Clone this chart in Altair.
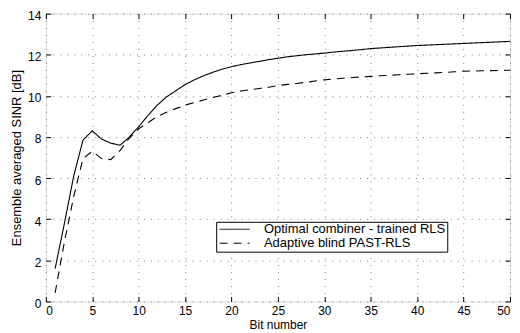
import altair as alt
import pandas as pd

# ---- data ----
bits = list(range(1, 51))
optimal_rls = [1.60, 3.80, 6.10, 7.85, 8.30, 7.90, 7.70, 7.60, 8.00, 8.50,
               9.05, 9.55, 9.95, 10.25, 10.55, 10.78, 10.98, 11.15, 11.30, 11.42,
               11.52, 11.60, 11.68, 11.76, 11.83, 11.90, 11.95, 12.00, 12.04, 12.08,
               12.13, 12.17, 12.21, 12.25, 12.30, 12.33, 12.36, 12.39, 12.42, 12.45,
               12.47, 12.49, 12.51, 12.53, 12.55, 12.57, 12.59, 12.61, 12.63, 12.65]
blind_past_rls = [0.42, 2.90, 5.10, 6.95, 7.30, 6.95, 6.90, 7.35, 7.95, 8.40,
                  8.70, 9.00, 9.20, 9.38, 9.55, 9.68, 9.80, 9.92, 10.03, 10.15,
                  10.24, 10.30, 10.36, 10.42, 10.50, 10.56, 10.60, 10.66, 10.72, 10.78,
                  10.82, 10.86, 10.89, 10.92, 10.95, 10.98, 11.00, 11.03, 11.05, 11.07,
                  11.10, 11.12, 11.14, 11.17, 11.20, 11.21, 11.22, 11.23, 11.24, 11.25]
series_names = ["Optimal combiner - trained RLS", "Adaptive blind PAST-RLS"]
x_ticks = [0, 5, 10, 15, 20, 25, 30, 35, 40, 45, 50]
y_ticks = [0, 2, 4, 6, 8, 10, 12, 14]

df = pd.DataFrame({
    "bit": bits + bits,
    "sinr": optimal_rls + blind_past_rls,
    "series": [series_names[0]] * len(bits) + [series_names[1]] * len(bits),
})

FONT = "Liberation Sans"
xs = alt.Scale(domain=[0, 50], nice=False, zero=False)
ys = alt.Scale(domain=[0, 14], nice=False, zero=False)

grid_style = dict(grid=True, gridDash=[1, 6], gridColor="#808080", gridWidth=1)
label_style = dict(labelFont=FONT, labelFontSize=12, labelColor="black",
                   titleFont=FONT, titleColor="black", titleFontWeight="normal")

base = alt.Chart(df)

lines = base.mark_line(strokeWidth=1.1, color="black").encode(
    x=alt.X("bit:Q", scale=xs, title="Bit number",
            axis=alt.Axis(values=x_ticks, ticks=False, domain=False,
                          labelPadding=4, titlePadding=3, titleFontSize=12,
                          **grid_style, **label_style)),
    y=alt.Y("sinr:Q", scale=ys, title="Ensemble averaged SINR [dB]",
            axis=alt.Axis(values=y_ticks, ticks=False, domain=False,
                          labelPadding=5, titlePadding=4, titleFontSize=13,
                          labelOffset=2, **grid_style, **label_style)),
    strokeDash=alt.StrokeDash(
        "series:N",
        scale=alt.Scale(domain=series_names, range=[[1, 0], [8, 6]]),
        legend=alt.Legend(title=None, orient="none", legendX=171, legendY=209,
                          fillColor="white", strokeColor="black", padding=1,
                          cornerRadius=0, symbolType="M-3,0H3", symbolSize=100,
                          symbolStrokeWidth=1, symbolStrokeColor="black",
                          symbolOffset=11, labelOffset=23,
                          labelFont=FONT, labelFontSize=13, labelColor="black",
                          labelLimit=400, rowPadding=-1),
    ),
)

tick_axis = dict(labels=False, domain=False, grid=False, ticks=True,
                 tickSize=5, tickColor="black", tickWidth=1)

ticks_bl = base.mark_line(opacity=0).encode(
    x=alt.X("bit:Q", scale=xs, title=None,
            axis=alt.Axis(values=x_ticks, orient="bottom", offset=-5, **tick_axis)),
    y=alt.Y("sinr:Q", scale=ys, title=None,
            axis=alt.Axis(values=y_ticks, orient="left", offset=-5, **tick_axis)),
)

ticks_tr = base.mark_line(opacity=0).encode(
    x=alt.X("bit:Q", scale=xs, title=None,
            axis=alt.Axis(values=x_ticks, orient="top", offset=-5, **tick_axis)),
    y=alt.Y("sinr:Q", scale=ys, title=None,
            axis=alt.Axis(values=y_ticks, orient="right", offset=-5, **tick_axis)),
)

chart = (
    alt.layer(lines, ticks_bl, ticks_tr)
    .resolve_axis(x="independent", y="independent")
    .properties(
        width=466, height=289,
        padding={"left": 38, "top": 5, "right": 2, "bottom": 36},
        autosize=alt.AutoSizeParams(type="none"),
    )
    .configure_view(stroke="black", strokeWidth=1)
    .configure(background="white")
)

chart.save("out.html", embed_options={"renderer": "svg", "actions": False})
